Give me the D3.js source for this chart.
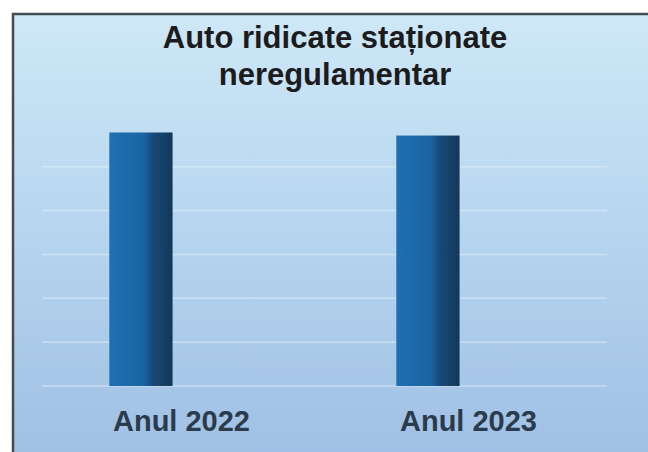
<!DOCTYPE html>
<html>
<head>
<meta charset="utf-8">
<script src="https://cdn.jsdelivr.net/npm/d3@7"></script>
<style>
  html, body { margin: 0; padding: 0; background: #ffffff; }
  svg { display: block; }
</style>
</head>
<body>
<svg id="chart" width="648" height="452"></svg>
<script>
// ---- data ----
const categories = ["Anul 2022", "Anul 2023"];
const seriesNames = ["Auto ridicate", "(gol)"];
const values = [578, 571];
const gridTicks = [0, 100, 200, 300, 400, 500];
const titleLines = ["Auto ridicate staționate", "neregulamentar"];

const W = 648, H = 452;
const svg = d3.select("#chart");
const defs = svg.append("defs");

const bg = defs.append("linearGradient").attr("id", "bg")
  .attr("x1", 0).attr("y1", 0).attr("x2", 0).attr("y2", 1);
bg.append("stop").attr("offset", "0%").attr("stop-color", "#cee8f6");
bg.append("stop").attr("offset", "50%").attr("stop-color", "#b4d3ee");
bg.append("stop").attr("offset", "100%").attr("stop-color", "#9dbde3");

const barG = defs.append("linearGradient").attr("id", "barg")
  .attr("x1", 0).attr("y1", 0).attr("x2", 1).attr("y2", 0);
barG.append("stop").attr("offset", "0%").attr("stop-color", "#1f70b2");
barG.append("stop").attr("offset", "55%").attr("stop-color", "#1a64a2");
barG.append("stop").attr("offset", "68%").attr("stop-color", "#174a78");
barG.append("stop").attr("offset", "100%").attr("stop-color", "#13385a");

// frame
svg.append("rect").attr("x", 0).attr("y", 0).attr("width", W).attr("height", H).attr("fill", "#ffffff");
svg.append("rect").attr("x", 13).attr("y", 14).attr("width", W + 20).attr("height", H + 20)
  .attr("fill", "url(#bg)").attr("stroke", "#454b52").attr("stroke-width", 2.5);

// scales
const x = d3.scaleBand().domain(categories).range([38, 612]).paddingInner(0).paddingOuter(0);
const xs = d3.scaleBand().domain(seriesNames).range([0, x.bandwidth()])
  .paddingInner(0.22).paddingOuter(0.879);
const y = d3.scaleLinear().domain([0, 700]).range([386, 386 - 7 * 43.86]);

// gridlines
svg.append("g").selectAll("line").data(gridTicks).join("line")
  .attr("x1", 42).attr("x2", 607)
  .attr("y1", d => y(d)).attr("y2", d => y(d))
  .attr("stroke", "#e2f0fa").attr("stroke-opacity", 0.55).attr("stroke-width", 1.5);

// bars
svg.append("g").selectAll("rect").data(categories).join("rect")
  .attr("x", (c) => x(c) + xs(seriesNames[0]))
  .attr("width", xs.bandwidth())
  .attr("y", (c, i) => y(values[i]))
  .attr("height", (c, i) => y(0) - y(values[i]))
  .attr("fill", "url(#barg)");

// x axis labels
const xAxis = d3.axisBottom(x).tickSize(0).tickPadding(0);
const ax = svg.append("g").attr("transform", "translate(0,386)").call(xAxis);
ax.select(".domain").remove();
ax.selectAll("text")
  .attr("dy", 0).attr("y", 45)
  .attr("font-family", "'Liberation Sans', Arial, sans-serif")
  .attr("font-weight", "bold")
  .attr("font-size", 29)
  .attr("fill", "#2a3b4c");

// title
svg.append("g").selectAll("text").data(titleLines).join("text")
  .attr("x", 335)
  .attr("y", (d, i) => 48 + i * 37)
  .attr("text-anchor", "middle")
  .attr("font-family", "'Liberation Sans', Arial, sans-serif")
  .attr("font-weight", "bold")
  .attr("font-size", 31)
  .attr("fill", "#1c1c1e")
  .text(d => d);
</script>
</body>
</html>
